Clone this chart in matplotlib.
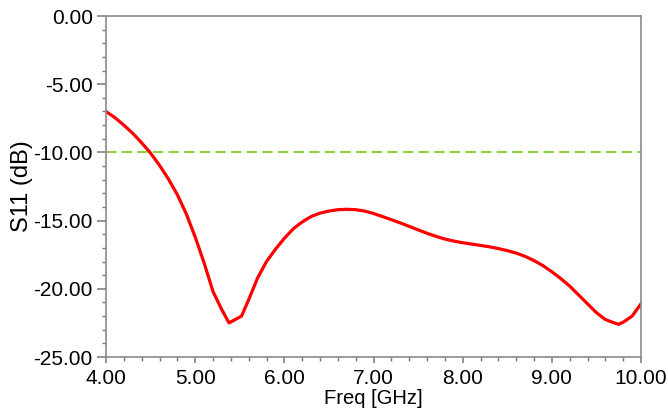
import matplotlib
matplotlib.use('Agg')
import matplotlib.pyplot as plt
from matplotlib.ticker import MultipleLocator, FormatStrFormatter

# S11
freq = [4.0, 4.1, 4.2, 4.3, 4.4, 4.5, 4.6, 4.7, 4.8, 4.9, 5.0, 5.1, 5.2, 5.3,
        5.38, 5.52, 5.6, 5.7, 5.8, 5.9, 6.0, 6.1, 6.2, 6.3, 6.4, 6.5, 6.6,
        6.7, 6.8, 6.9, 7.0, 7.1, 7.2, 7.3, 7.4, 7.5, 7.6, 7.7, 7.8, 7.9,
        8.0, 8.1, 8.2, 8.3, 8.4, 8.5, 8.6, 8.7, 8.8, 8.9, 9.0, 9.1, 9.2,
        9.3, 9.4, 9.5, 9.6, 9.7, 9.75, 9.8, 9.9, 10.0]
s11 = [-7.0, -7.45, -8.0, -8.6, -9.3, -10.05, -10.95, -11.95, -13.1, -14.5,
       -16.2, -18.1, -20.2, -21.55, -22.5, -22.0, -20.8, -19.2, -18.0, -17.1,
       -16.3, -15.6, -15.1, -14.7, -14.45, -14.3, -14.2, -14.17, -14.2,
       -14.3, -14.48, -14.7, -14.93, -15.17, -15.42, -15.68, -15.93, -16.15,
       -16.35, -16.5, -16.62, -16.72, -16.82, -16.92, -17.05, -17.2, -17.38,
       -17.62, -17.93, -18.3, -18.75, -19.25, -19.8, -20.45, -21.1, -21.75,
       -22.25, -22.5, -22.6, -22.45, -22.0, -21.1]
ref_level = -10.0

plt.rcParams['font.family'] = ['Liberation Sans', 'DejaVu Sans']

fig = plt.figure(figsize=(6.68, 4.16), dpi=100)
ax = fig.add_axes([0.1587, 0.1418, 0.8009, 0.8197])

ax.axhline(ref_level, color='#8ed13c', linewidth=1.5, linestyle=(0, (5, 2.5)))
ax.plot(freq, s11, color='#ff0000', linewidth=2.3)

ax.set_xlim(4, 10)
ax.set_ylim(-25, 0)
ax.xaxis.set_major_locator(MultipleLocator(1))
ax.xaxis.set_minor_locator(MultipleLocator(0.2))
ax.yaxis.set_major_locator(MultipleLocator(5))
ax.yaxis.set_minor_locator(MultipleLocator(1))
ax.xaxis.set_major_formatter(FormatStrFormatter('%.2f'))
ax.yaxis.set_major_formatter(FormatStrFormatter('%.2f'))

for s in ax.spines.values():
    s.set_color('#8a8a8a')
    s.set_linewidth(1.2)

ax.tick_params(axis='y', which='major', length=6.5, width=1.1, color='#777777',
               labelsize=15, pad=3)
ax.tick_params(axis='y', which='minor', length=3, width=1.0, color='#777777')
ax.tick_params(axis='x', which='major', length=4.5, width=1.1, color='#777777',
               labelsize=15, pad=4)
ax.tick_params(axis='x', which='minor', length=3, width=1.0, color='#777777')

ax.set_xlabel('Freq [GHz]', fontsize=14.5, labelpad=1)
ax.set_ylabel('S11 (dB)', fontsize=17, labelpad=0)

fig.savefig('out.png', dpi=100)
